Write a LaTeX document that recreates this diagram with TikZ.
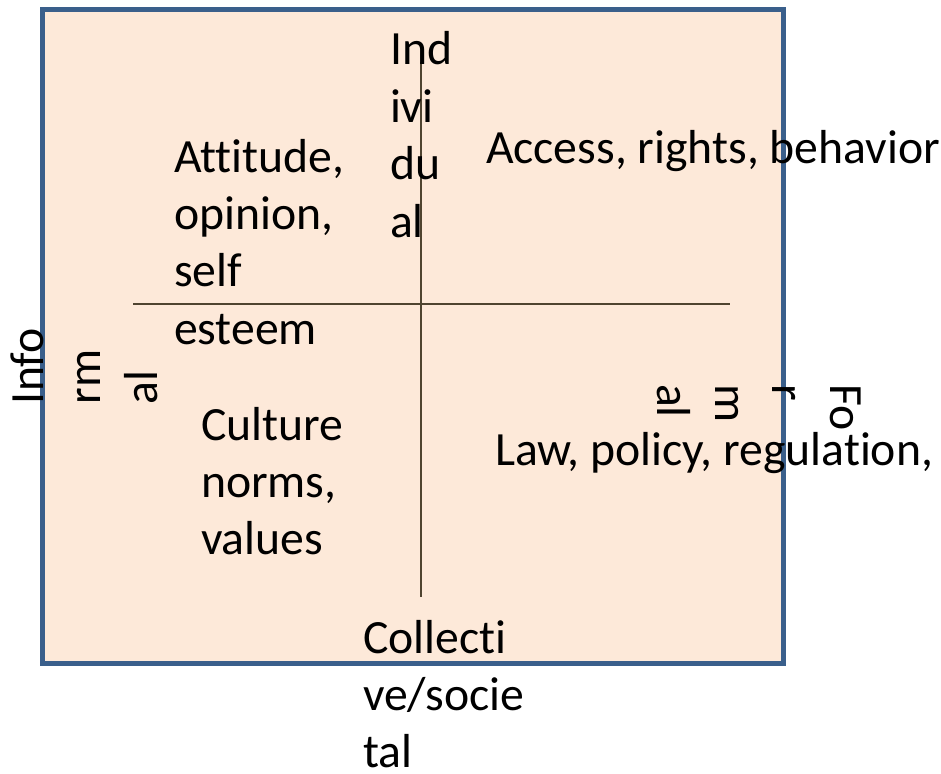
\documentclass[tikz,border=0pt]{standalone}
\usepackage{fontspec}
\setmainfont{Carlito}[RawFeature={-liga}]
\definecolor{framefill}{HTML}{FDE9D9}
\definecolor{frameline}{HTML}{3A5F8B}
\definecolor{axisline}{HTML}{4F4430}
\newcommand{\stk}[1]{\vtop{\fontsize{47.7}{57.4}\selectfont #1}}
\tikzset{
  lbl/.style={inner sep=0pt, outer sep=0pt, anchor=base west, font=\fontsize{47.7}{57.4}\selectfont, text=black},
  axis/.style={draw=axisline, line width=1.9pt},
  frame/.style={draw=frameline, fill=framefill, line width=5pt}
}
\begin{document}
\begin{tikzpicture}[x=1pt,y=1pt]
\useasboundingbox[fill=white] (0,0) rectangle (941,-773);
\draw[frame] (42,-10) rectangle (783,-663);
\coordinate (vt) at (421,-62);
\coordinate (vb) at (421,-597);
\coordinate (hl) at (133,-304);
\coordinate (hr) at (730,-304);
\draw[axis] (vt) -- (vb);
\draw[axis] (hl) -- (hr);
\node[lbl] (ind) at (390,-65) {\stk{\hbox{Ind}\hbox{ivi}\hbox{du}\hbox{al}}};
\node[lbl] (att) at (174,-172) {\stk{\hbox{Attitude,}\hbox{opinion,}\hbox{self}\hbox{esteem}}};
\node[lbl] (acc) at (486,-163) {Access, rights, behavior};
\node[lbl] (cul) at (201,-440) {\stk{\hbox{Culture}\hbox{norms,}\hbox{values}}};
\node[lbl] (law) at (495,-465) {Law, policy, regulation,};
\node[lbl] (col) at (363,-653) {\stk{\hbox{Collecti}\hbox{ve/socie}\hbox{tal}}};
\node[lbl, rotate=90] (inf) at (43,-404) {\stk{\hbox{Info}\hbox{rm}\hbox{al}}};
\node[lbl, rotate=-90] (frm) at (830,-384) {\stk{\hbox{Fo}\hbox{r}\hbox{m}\hbox{al}}};
\end{tikzpicture}
\end{document}
